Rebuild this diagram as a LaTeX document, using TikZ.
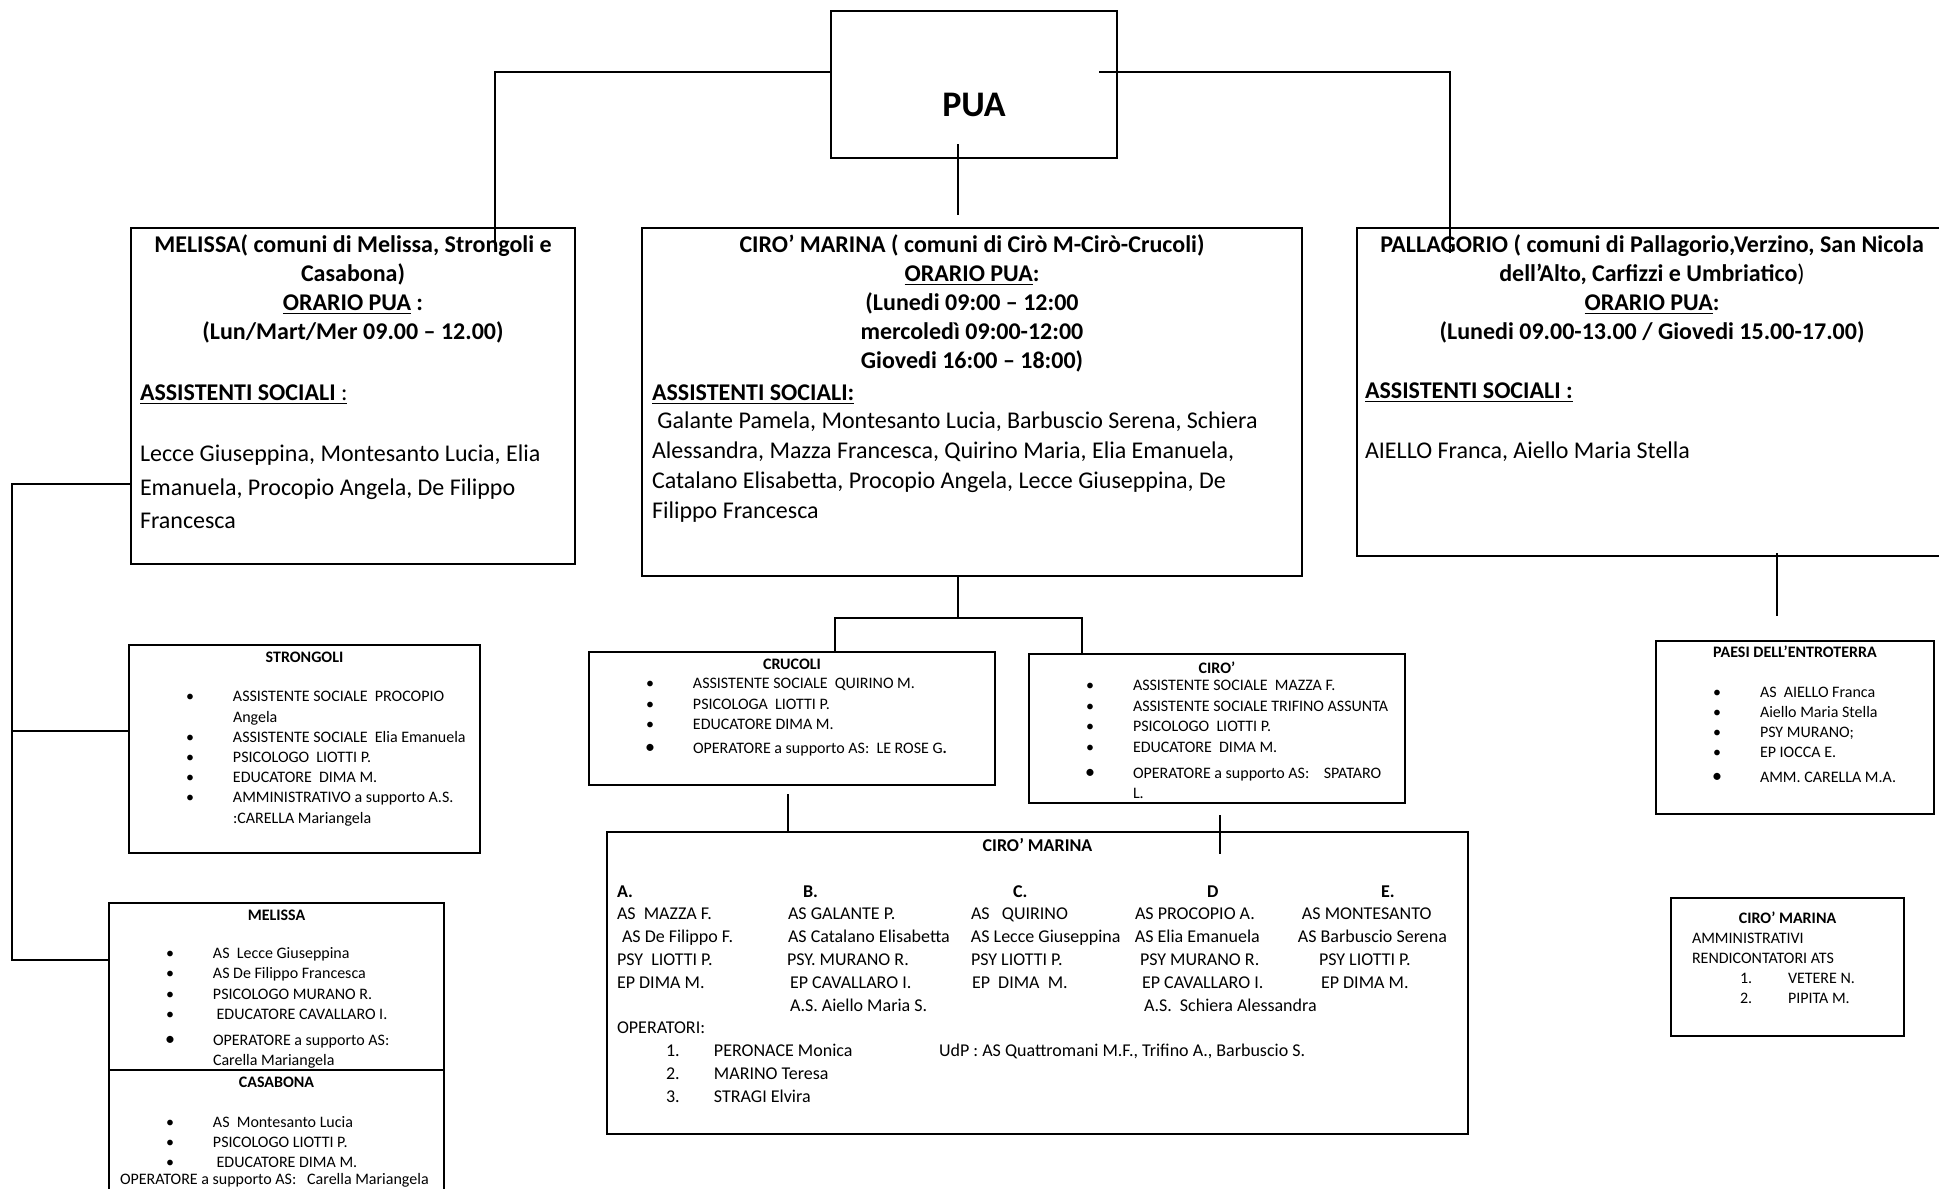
\documentclass[tikz,border=0pt]{standalone}
\usepackage{fontspec}
\setmainfont{Carlito}
\usetikzlibrary{positioning}

\newcommand{\bigfont}{\fontsize{12}{14.6}\selectfont}
\newcommand{\smallfont}{\fontsize{8}{10.1}\selectfont}
\newcommand{\bigbul}{{\fontsize{10}{10}\selectfont\textbullet}}
% bullet list lines: bullet at 30.5pt, text at 52pt
\newcommand{\itm}[2][\textbullet]{\leavevmode\hspace*{30.5pt}\makebox[0pt]{#1}\hspace*{21.5pt}#2}
\newcommand{\itc}[1]{\leavevmode\hspace*{52pt}#1}
\newcommand{\colx}[2]{\leavevmode\rlap{\hspace*{#1}#2}}

\begin{document}
\begin{tikzpicture}[x=0.5pt, y=-0.5pt,
  box/.style={draw, line width=1.2pt, inner sep=0pt, outer sep=0pt, anchor=north west},
  link/.style={draw=black, line width=0.8pt}]
\useasboundingbox (0,0) rectangle (1939,1189);

% PUA
\node[box] (pua) at (831,11) {\parbox[c][73.5pt][t]{143pt}{\centering\fontsize{18}{20}\selectfont\bfseries\rule{0pt}{52.5pt}PUA}};

% three districts
\node[box] (melissa) at (131,228) {\parbox[c][168pt][t]{222pt}{\bigfont
  {\centering\bfseries\rule{0pt}{12pt}MELISSA( comuni di Melissa, Strongoli e\\ Casabona)\\ \underline{ORARIO PUA} :\\ (Lun/Mart/Mer 09.00 – 12.00)\par}
  \vspace{15.9pt}
  {\raggedright\leftskip=4.5pt \underline{\textbf{ASSISTENTI SOCIALI} :}\par}
  \vspace{13.8pt}
  {\raggedright\leftskip=4.5pt \baselineskip=16.7pt Lecce Giuseppina, Montesanto Lucia, Elia\\ Emanuela, Procopio Angela, De Filippo\\ Francesca\par}}};

\node[box] (ciromarina) at (642,228) {\parbox[c][174pt][t]{330pt}{\bigfont
  {\centering\bfseries\rule{0pt}{12pt}CIRO’ MARINA ( comuni di Cirò M-Cirò-Crucoli)\\ \underline{ORARIO PUA}:\\ (Lunedi 09:00 – 12:00\\ mercoledì 09:00-12:00\\ Giovedi 16:00 – 18:00)\par}
  \vspace{1pt}
  {\raggedright\leftskip=5pt \textbf{\underline{ASSISTENTI SOCIALI:}}\par}
  \vspace{-0.6pt}
  {\raggedright\leftskip=5pt \baselineskip=14.9pt
  \ Galante Pamela, Montesanto Lucia, Barbuscio Serena, Schiera\\ Alessandra, Mazza Francesca, Quirino Maria, Elia Emanuela,\\ Catalano Elisabetta, Procopio Angela, Lecce Giuseppina, De\\ Filippo Francesca\par}}};

\node[box] (pallagorio) at (1357,228) {\parbox[c][164pt][t]{295pt}{\bigfont
  {\centering\bfseries\rule{0pt}{12pt}PALLAGORIO ( comuni di Pallagorio,Verzino, San Nicola\\ dell’Alto, Carfizzi e Umbriatico{\mdseries)}\\ \underline{ORARIO PUA}:\\ (Lunedi 09.00-13.00 / Giovedi 15.00-17.00)\par}
  \vspace{14.6pt}
  {\raggedright\leftskip=4pt \textbf{\underline{ASSISTENTI SOCIALI :}}\par}
  \vspace{15.4pt}
  {\raggedright\leftskip=4pt AIELLO Franca, Aiello Maria Stella\par}}};

% Melissa side
\node[box] (strongoli) at (129,645) {\parbox[c][104pt][t]{175.5pt}{\smallfont
  {\centering\bfseries\rule{0pt}{8.5pt}STRONGOLI\par}
  \vspace{9.8pt}
  \itm{ASSISTENTE SOCIALE\ \ PROCOPIO}\\
  \itc{Angela}\\
  \itm{ASSISTENTE SOCIALE\ \ Elia Emanuela}\\
  \itm{PSICOLOGO\ \ LIOTTI P.}\\
  \itm{EDUCATORE\ \ DIMA M.}\\
  \itm{AMMINISTRATIVO a supporto A.S.}\\
  \itc{:CARELLA Mariangela}}};

\node[box] (melissasub) at (109,903) {\parbox[c][83.5pt][t]{167.5pt}{\smallfont
  {\centering\bfseries\rule{0pt}{8.5pt}MELISSA\par}
  \vspace{9.2pt}
  \itm{AS\ \ Lecce Giuseppina}\\
  \itm{AS De Filippo Francesca}\\
  \itm{PSICOLOGO MURANO R.}\\
  \itm{\ EDUCATORE CAVALLARO I.}\\[2.9pt]
  \itm[\bigbul]{OPERATORE a supporto AS:}\\
  \itc{Carella Mariangela}}};

\node[box, below=0pt of melissasub] (casabona) {\parbox[c][100pt][t]{167.5pt}{\fontsize{8}{10}\selectfont
  {\centering\bfseries\rule{0pt}{8.5pt}CASABONA\par}
  \vspace{10pt}
  \itm{AS\ \ Montesanto Lucia}\\
  \itm{PSICOLOGO LIOTTI P.}\\
  \itm{\ EDUCATORE DIMA M.}\\[-1.5pt]
  \colx{5.5pt}{OPERATORE a supporto AS:\ \ \ Carella Mariangela}}};

% Ciro Marina side
\node[box] (crucoli) at (589,652) {\parbox[c][66.5pt][t]{203pt}{\fontsize{8}{10.2}\selectfont
  {\centering\bfseries\rule{0pt}{8.5pt}CRUCOLI\par}
  \vspace{-0.3pt}
  \itm{ASSISTENTE SOCIALE\ \ QUIRINO M.}\\
  \itm{PSICOLOGA\ \ LIOTTI P.}\\
  \itm{EDUCATORE DIMA M.}\\[1.5pt]
  \itm[\bigbul]{OPERATORE a supporto AS:\ \ LE ROSE G{\bfseries.}}}};

\node[box] (ciro) at (1029,654) {\parbox[c][74.5pt][t]{188pt}{\fontsize{8}{10.3}\selectfont
  {\centering\bfseries\rule{0pt}{9.5pt}CIRO’\par}
  \vspace{-1.6pt}
  \itm{ASSISTENTE SOCIALE\ \ MAZZA F.}\\
  \itm{ASSISTENTE SOCIALE TRIFINO ASSUNTA}\\
  \itm{PSICOLOGO\ \ LIOTTI P.}\\
  \itm{EDUCATORE\ \ DIMA M.}\\[2.7pt]
  \itm[\bigbul]{OPERATORE a supporto AS:\ \ \ \ SPATARO}\\
  \itc{L.}}};

\node[box] (ciromarinab) at (607,832) {\parbox[c][151pt][t]{430.5pt}{\fontsize{9}{11.4}\selectfont
  {\centering\bfseries\rule{0pt}{9.5pt}CIRO’ MARINA\par}
  \vspace{11.6pt}
  \colx{5pt}{\textbf{A.}}\colx{98pt}{\textbf{B.}}\colx{203pt}{\textbf{C.}}\colx{300pt}{\textbf{D}}\colx{387pt}{\textbf{E.}}\par
  \colx{5pt}{AS\ \ MAZZA F.}\colx{90.5pt}{AS GALANTE P.}\colx{182pt}{AS\ \ \ QUIRINO}\colx{264pt}{AS PROCOPIO A.}\colx{347.5pt}{AS MONTESANTO}\par
  \colx{7.5pt}{AS De Filippo F.}\colx{90.5pt}{AS Catalano Elisabetta}\colx{182pt}{AS Lecce Giuseppina}\colx{264pt}{AS Elia Emanuela}\colx{345.5pt}{AS Barbuscio Serena}\par
  \colx{5pt}{PSY\ \ LIOTTI P.}\colx{90pt}{PSY. MURANO R.}\colx{182pt}{PSY LIOTTI P.}\colx{266.5pt}{PSY MURANO R.}\colx{356pt}{PSY LIOTTI P.}\par
  \colx{5pt}{EP DIMA M.}\colx{91.5pt}{EP CAVALLARO I.}\colx{182.5pt}{EP\ \ DIMA\ \ M.}\colx{267.5pt}{EP CAVALLARO I.}\colx{357pt}{EP DIMA M.}\par
  \colx{91.5pt}{A.S. Aiello Maria S.}\colx{268.5pt}{A.S.\ \ Schiera Alessandra}\par
  \colx{5pt}{OPERATORI:}\par
  \colx{29.5pt}{1.}\colx{53.5pt}{PERONACE Monica}\colx{166pt}{UdP : AS Quattromani M.F., Trifino A., Barbuscio S.}\par
  \colx{29.5pt}{2.}\colx{53.5pt}{MARINO Teresa}\par
  \colx{29.5pt}{3.}\colx{53.5pt}{STRAGI Elvira}\par}};

% Pallagorio side
\node[box] (paesi) at (1656,641) {\parbox[c][86.5pt][t]{139pt}{\fontsize{8}{9.9}\selectfont
  {\centering\bfseries\rule{0pt}{8pt}PAESI DELL’ENTROTERRA\par}
  \vspace{10.5pt}
  \itm{AS\ \ AIELLO Franca}\\
  \itm{Aiello Maria Stella}\\
  \itm{PSY MURANO;}\\
  \itm{EP IOCCA E.}\\[2.5pt]
  \itm[\bigbul]{AMM. CARELLA M.A.}}};

\node[box] (amministrativi) at (1671,898) {\parbox[c][69pt][t]{116.5pt}{\fontsize{8}{10}\selectfont
  {\centering\bfseries\rule{0pt}{12.5pt}CIRO’ MARINA\par}
  {\raggedright\leftskip=10.5pt AMMINISTRATIVI\\ RENDICONTATORI ATS\par}
  \colx{34.5pt}{1.}\colx{58.5pt}{VETERE N.}\par
  \colx{34.5pt}{2.}\colx{58.5pt}{PIPITA M.}\par}};

% connectors
\coordinate (pl) at (495,72);
\coordinate (pr) at (1450,72);
\coordinate (pd) at (958,144);
\draw[link] (pua.west |- pl) -- (pl) -- (pl |- 0,245);
\draw[link] (1099,72) -- (pr) -- (pr |- 0,253);
\draw[link] (pd) -- (pd |- 0,215);

\coordinate (lt) at (12,484);
\coordinate (lm) at (12,731);
\coordinate (lb) at (12,960);
\draw[link] (lt -| melissa.west) -- (lt) -- (lb) -- (lb -| melissasub.west);
\draw[link] (lm) -- (lm -| strongoli.west);

\coordinate (cm) at (958,618);
\coordinate (cl) at (835,618);
\coordinate (cr) at (1082,618);
\draw[link] (cm |- ciromarina.south) -- (cm);
\draw[link] (cl |- crucoli.north) -- (cl) -- (cr) -- (cr |- ciro.north);
\coordinate (crb) at (788,794);
\coordinate (cib) at (1220,815);
\draw[link] (crb) -- (crb |- ciromarinab.north);
\draw[link] (cib) -- (1220,854);
\coordinate (pab) at (1777,553);
\draw[link] (pab) -- (1777,616);
\end{tikzpicture}
\end{document}
